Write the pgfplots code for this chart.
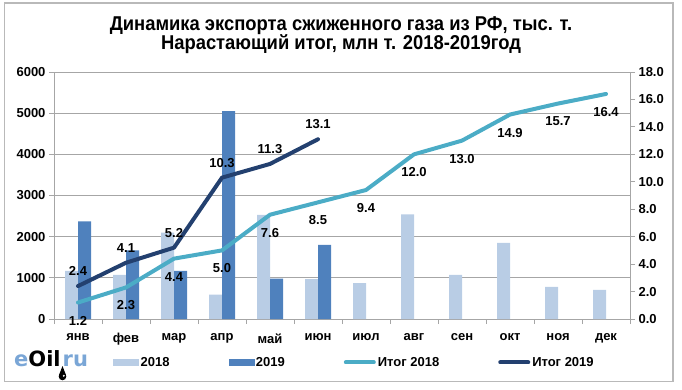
\documentclass[border=0pt]{standalone}
\usepackage{pgfplots}
\pgfplotsset{compat=1.18}
\usepackage{fontspec}
\setmainfont{Liberation Sans}
\newfontfamily\narrowfont[FakeStretch=0.92]{Liberation Sans}
\newfontfamily\logofont{DejaVu Sans}
\definecolor{bar18}{HTML}{B9CDE5}
\definecolor{bar19}{HTML}{4F81BD}
\definecolor{line18}{HTML}{4BACC6}
\definecolor{line19}{HTML}{23406F}
\definecolor{gridgray}{HTML}{A6A6A6}
\definecolor{logoblue}{HTML}{7AA6D6}
\pgfplotsset{
  base/.style={
    scale only axis, width=576pt, height=247pt,
    at={(54pt,70pt)}, anchor=south west,
    xmin=-0.5, xmax=11.5,
    tick align=outside, major tick length=5pt,
    axis line style={gridgray, line width=0.9pt},
    every tick/.style={gridgray, line width=0.9pt},
    /pgf/number format/assume math mode=true,
    ticklabel style={font=\bfseries\fontsize{13}{15}\selectfont},
  }
}
\begin{document}
\begin{tikzpicture}
\useasboundingbox (0pt,0pt) rectangle (682pt,389pt);
\draw[color=gray!55, line width=1.2pt] (4.5pt,7.5pt) rectangle (673pt,386pt);
\node[font=\narrowfont\bfseries\fontsize{20}{19.5}\selectfont, align=center] at (341pt,354pt)
  {Динамика экспорта сжиженного газа из РФ, тыс. т.\\Нарастающий итог, млн т. 2018-2019год};
% logo
\node[anchor=base west, inner sep=0pt, font=\logofont\bfseries\fontsize{21}{21}\selectfont] at (14pt,23pt)
  {\textcolor{logoblue}{e}Oil\kern2pt\textcolor{logoblue}{ru}};
\fill[black] (62.5pt,12.5pt) circle (3.8pt);
\fill[black] (58.9pt,13.7pt) -- (62.5pt,23pt) -- (66.1pt,13.7pt) -- cycle;
\fill[white] (63.8pt,13.2pt) circle (1.1pt);

\begin{axis}[base,
  ymin=0, ymax=6000, ytick={0,1000,...,6000},
  axis x line*=bottom, axis y line*=left,
  ymajorgrids, grid style={gridgray, line width=0.9pt},
  xtick={0,...,11},
  xticklabels={янв,фев,мар,апр,май,июн,июл,авг,сен,окт,ноя,дек},
  xticklabel style={yshift=-6pt},
  major x tick style={draw=none},
  minor xtick={-0.5,0.5,...,11.5},
  minor tick length=5pt,
  yticklabel style={/pgf/number format/1000 sep={}},
]
\addplot[ybar, bar width=13pt, bar shift=-6.5pt, fill=bar18, draw=none]
  coordinates {(0,1170) (1,1070) (2,2100) (3,590) (4,2530) (5,970) (6,870) (7,2540) (8,1070) (9,1850) (10,780) (11,710)};
\addplot[ybar, bar width=13pt, bar shift=6.5pt, fill=bar19, draw=none]
  coordinates {(0,2370) (1,1670) (2,1170) (3,5050) (4,980) (5,1800)};
\end{axis}

\begin{axis}[base,
  ymin=0, ymax=18, ytick={0,2,...,18},
  axis y line*=right, axis x line=none,
  yticklabel style={/pgf/number format/fixed, /pgf/number format/fixed zerofill, /pgf/number format/precision=1},
  legend columns=4,
  legend style={draw=none, fill=none, inner sep=0pt,
    at={(axis description cs:0.1024,-0.176)}, anchor=west,
    font=\bfseries\fontsize{13}{15}\selectfont,
    /tikz/every even column/.append style={column sep=57pt}},
  nodes near coords,
  nodes near coords style={font=\bfseries\fontsize{13}{15}\selectfont, black,
    /pgf/number format/fixed, /pgf/number format/fixed zerofill, /pgf/number format/precision=1},
]
\addlegendimage{legend image code/.code={\fill[bar18] (0pt,-3pt) rectangle (25pt,3pt);}}
\addlegendentry{2018}
\addlegendimage{legend image code/.code={\fill[bar19] (0pt,-3pt) rectangle (25pt,3pt);}}
\addlegendentry{2019}
\addplot[line18, line width=4pt, line join=round, line cap=round,
  legend image code/.code={\draw[line18, line width=4pt, line cap=round] (0pt,0pt) -- (28pt,0pt);},
  every node near coord/.append style={anchor=center, yshift=-18pt}]
  coordinates {(0,1.2) (1,2.3) (2,4.4) (3,5.0) (4,7.6) (5,8.5) (6,9.4) (7,12.0) (8,13.0) (9,14.9) (10,15.7) (11,16.4)};
\addlegendentry{Итог 2018}
\addplot[line19, line width=4pt, line join=round, line cap=round,
  legend image code/.code={\draw[line19, line width=4pt, line cap=round] (0pt,0pt) -- (28pt,0pt);},
  every node near coord/.append style={anchor=center, yshift=15pt}]
  coordinates {(0,2.4) (1,4.1) (2,5.2) (3,10.3) (4,11.3) (5,13.1)};
\addlegendentry{Итог 2019}
\end{axis}
\end{tikzpicture}
\end{document}
